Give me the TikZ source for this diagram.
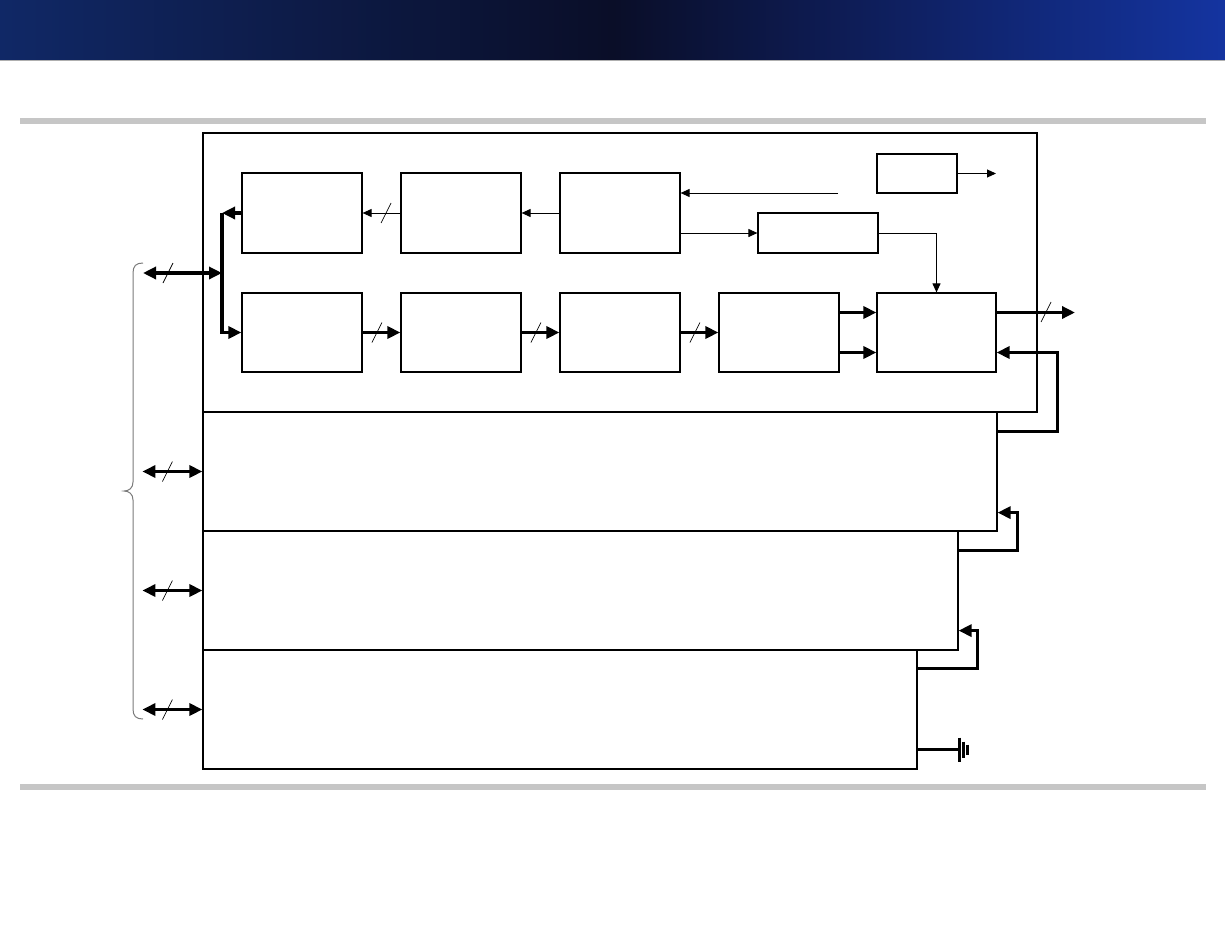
\documentclass[tikz,border=0pt]{standalone}
\usepackage{tikz}
\usetikzlibrary{calc,arrows.meta}
\definecolor{bandL}{HTML}{102866}
\definecolor{bandM}{HTML}{0A0E28}
\definecolor{bandR}{HTML}{1434A0}
\definecolor{rulegray}{HTML}{C6C6C6}
\definecolor{bracegray}{HTML}{7A7A7A}
\tikzset{
  blk/.style={draw=black, line width=1.2pt, inner sep=0pt},
  sig/.style={draw=black, line width=1pt, >={Triangle[length=9pt,width=8pt]}},
  bus/.style={draw=black, line width=3.4pt, >={Triangle[length=13pt,width=12pt]}},
  tick/.style={draw=black, line width=0.7pt},
  gnd/.style={draw=black, line width=3pt},
  hrule/.style={fill=rulegray}
}
\begin{document}
\begin{tikzpicture}[x=1pt,y=-1pt]
  \useasboundingbox (0,0) rectangle (1225,937);
  % header band and rules
  \shade[left color=bandL, right color=bandR, middle color=bandM] (0,0) rectangle (1225,60);
  \draw[color=bracegray!60, line width=1pt] (0,60) -- (1225,60);
  \fill[hrule] (20,118) rectangle (1206,124);
  \fill[hrule] (20,784) rectangle (1206,790);

  % layers
  \node[blk, minimum width=834pt, minimum height=279pt] (L1) at (620,272.5) {};
  \node[blk, minimum width=794pt, minimum height=119pt] (L2) at (600,471.5) {};
  \node[blk, minimum width=755pt, minimum height=119pt] (L3) at (580.5,590.5) {};
  \node[blk, minimum width=714pt, minimum height=119pt] (L4) at (560,709.5) {};

  % blocks
  \node[blk, minimum width=120pt, minimum height=80pt] (A1) at (302,213) {};
  \node[blk, minimum width=120pt, minimum height=80pt] (B1) at (461,213) {};
  \node[blk, minimum width=120pt, minimum height=80pt] (C1) at (620,213) {};
  \node[blk, minimum width=120pt, minimum height=79pt] (A2) at (302,332.5) {};
  \node[blk, minimum width=120pt, minimum height=79pt] (B2) at (461,332.5) {};
  \node[blk, minimum width=120pt, minimum height=79pt] (C2) at (620,332.5) {};
  \node[blk, minimum width=120pt, minimum height=79pt] (D2) at (779,332.5) {};
  \node[blk, minimum width=119pt, minimum height=79pt] (M) at (936.5,332.5) {};
  \node[blk, minimum width=120pt, minimum height=40pt] (P) at (818,233) {};
  \node[blk, minimum width=80pt, minimum height=39pt] (Q) at (917,173.5) {};

  \coordinate (ext) at (838,193);
  \coordinate (qo) at (996,173.5);
  \coordinate (mo) at (1075,312.5);
  \coordinate (jn) at (222,273);
  \coordinate (pL1) at (143,273);

  % top row
  \draw[sig,->] (C1.west) -- (B1.east);
  \draw[sig,->] (B1.west) -- coordinate[pos=0.38] (s0) (A1.east);
  \draw[tick] ($(s0)+(-5,10)$) -- ($(s0)+(5,-10)$);
  \draw[sig,->] (ext) -- (C1.east |- ext);
  \draw[sig,->] (C1.east |- P.west) -- (P.west);
  \draw[sig,->] (Q.east) -- (qo);
  \draw[sig,->] (P.east) -| (M.north);

  % bottom row
  \foreach \a/\b in {A2/B2,B2/C2,C2/D2}{
    \draw[bus,->] (\a.east) -- coordinate[pos=0.38] (s) (\b.west);
    \draw[tick] ($(s)+(-5,10)$) -- ($(s)+(5,-10)$);
  }
  \draw[bus,->] ($(D2.east)+(0,-20)$) -- ($(M.west)+(0,-20)$);
  \draw[bus,->] ($(D2.east)+(0,20)$) -- ($(M.west)+(0,20)$);
  \draw[bus,->] ($(M.east)+(0,-20)$) -- (mo);
  \draw[tick] (1041,322) -- (1051,302);

  % feedback between layers
  \draw[bus,->] ($(L2.north east)+(0,20)$) -- ++(60,0) |- ($(M.east)+(0,20)$);
  \draw[bus,->] ($(L3.north east)+(0,20)$) -- ++(59,0) |- ($(L2.south east)+(0,-19)$);
  \draw[bus,->] ($(L4.north east)+(0,19)$) -- ++(60,0) |- ($(L3.south east)+(0,-20)$);

  % ground
  \draw[bus] ($(L4.south east)+(0,-20)$) -- ++(42,0) coordinate (g0);
  \draw[gnd] ($(g0)+(0,-12)$) -- ($(g0)+(0,12)$);
  \draw[gnd] ($(g0)+(4,-8)$) -- ($(g0)+(4,8)$);
  \draw[gnd] ($(g0)+(8,-5)$) -- ($(g0)+(8,5)$);

  % left bus
  \draw[bus,<->] (pL1) -- (jn);
  \draw[tick] (163,283) -- (173,263);
  \draw[bus,->] (A1.west) -- (A1.west -| jn);
  \draw[bus,->] (A1.west -| jn) |- (A2.west);
  \foreach \b in {L2,L3,L4}{
    \draw[bus,<->] (\b.west) -- ++(-60,0);
    \draw[tick] ($(\b.west)+(-40,10)$) -- ($(\b.west)+(-30,-10)$);
  }

  % brace
  \draw[bracegray, line width=1pt] (143,263) .. controls (136,263) and (133,266) .. (133,273)
    -- (133,482) .. controls (133,488) and (129,491) .. (124,491)
    .. controls (129,491) and (133,494) .. (133,500)
    -- (133,709) .. controls (133,716) and (136,719) .. (143,719);
\end{tikzpicture}
\end{document}
